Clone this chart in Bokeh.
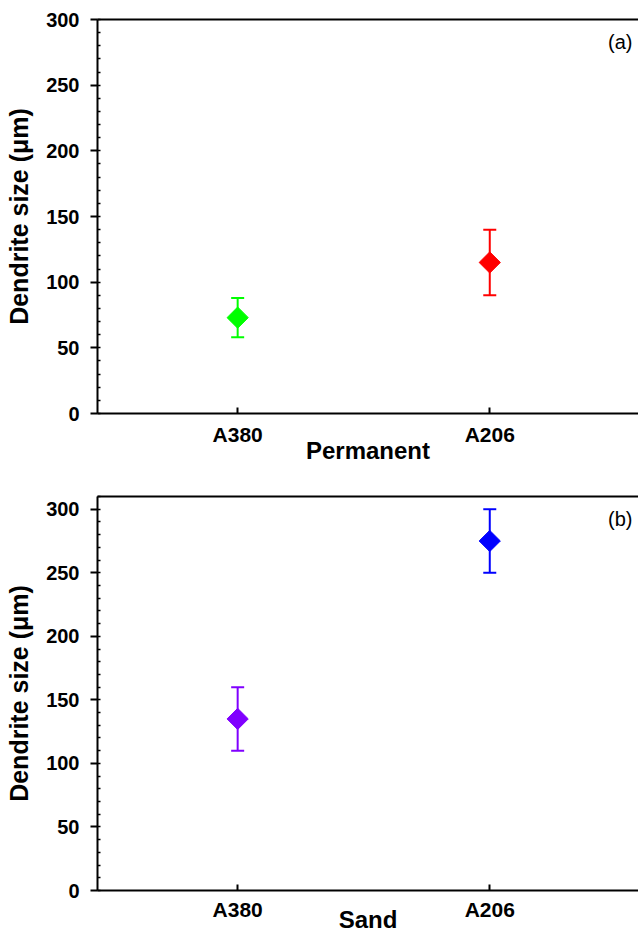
import numpy as np
from bokeh.plotting import figure
from bokeh.layouts import column
from bokeh.models import (ColumnDataSource, Range1d, FixedTicker,
                          SingleIntervalTicker, LinearAxis, Label)
from bokeh.embed import file_html
from bokeh.resources import INLINE

# Alloys on the x axis
alloys = ["A380", "A206"]

# (a) permanent mould casting: mean dendrite size and error (µm)
perm_size = [73, 115]
perm_err = [15, 25]
perm_colors = ["#00ff00", "#ff0000"]

# (b) sand casting
sand_size = [135, 275]
sand_err = [25, 25]
sand_colors = ["#8000ff", "#0000ff"]

FONT = "Liberation Sans"
X_START, X_END = 0.444, 2.59


def style_axis(ax):
    ax.axis_line_width = 2
    ax.axis_line_color = "black"
    ax.major_tick_line_width = 2
    ax.minor_tick_line_width = 1.5
    ax.major_label_text_font = FONT
    ax.major_label_text_font_style = "bold"
    ax.major_label_text_font_size = "20px"
    ax.major_label_text_color = "black"
    ax.axis_label_text_font = FONT
    ax.axis_label_text_font_style = "bold"
    ax.axis_label_text_font_size = "25px"
    ax.axis_label_text_color = "black"


def make_panel(sizes, errs, colors, xtitle, tag, y_end, height, top, bottom,
               label_standoff, title_standoff):
    positions = list(range(1, len(alloys) + 1))
    src = ColumnDataSource(dict(
        x=positions,
        size=sizes,
        lo=[s - e for s, e in zip(sizes, errs)],
        hi=[s + e for s, e in zip(sizes, errs)],
        color=colors,
    ))

    p = figure(width=638, height=height,
               x_range=Range1d(X_START, X_END), y_range=Range1d(0, y_end),
               output_backend="svg", toolbar_location=None,
               x_axis_location=None, y_axis_location=None,
               min_border_left=97, min_border_right=0,
               min_border_top=top, min_border_bottom=bottom)
    p.outline_line_color = None
    p.xgrid.visible = False
    p.ygrid.visible = False
    p.background_fill_color = "white"

    yaxis = LinearAxis(ticker=SingleIntervalTicker(interval=50, num_minor_ticks=5),
                       axis_label="Dendrite size (μm)")
    style_axis(yaxis)
    yaxis.major_tick_out = 7
    yaxis.major_tick_in = 0
    yaxis.minor_tick_out = 0
    yaxis.minor_tick_in = 3
    yaxis.major_label_standoff = 11
    yaxis.axis_label_standoff = 10
    p.add_layout(yaxis, "left")

    xaxis = LinearAxis(ticker=FixedTicker(ticks=positions),
                       major_label_overrides={i: a for i, a in zip(positions, alloys)},
                       axis_label=xtitle)
    style_axis(xaxis)
    xaxis.major_label_text_font_size = "21px"
    xaxis.axis_label_text_font_size = "24px"
    xaxis.major_tick_out = 0
    xaxis.major_tick_in = 6
    xaxis.minor_tick_out = 0
    xaxis.minor_tick_in = 0
    xaxis.major_label_standoff = label_standoff
    xaxis.axis_label_standoff = title_standoff
    p.add_layout(xaxis, "below")

    top_axis = LinearAxis(ticker=FixedTicker(ticks=[]))
    style_axis(top_axis)
    top_axis.major_tick_out = 0
    top_axis.major_tick_in = 0
    top_axis.minor_tick_out = 0
    top_axis.minor_tick_in = 0
    top_axis.major_label_standoff = 0
    p.add_layout(top_axis, "above")

    # error bars with caps
    p.segment(x0="x", y0="lo", x1="x", y1="hi", line_color="color",
              line_width=2, source=src)
    p.scatter(x="x", y="hi", marker="dash", size=13, line_color="color",
              line_width=2, source=src)
    p.scatter(x="x", y="lo", marker="dash", size=13, line_color="color",
              line_width=2, source=src)
    # diamond markers
    p.scatter(x="x", y="size", marker="square", angle=np.pi / 4, size=15,
              fill_color="color", line_color="color", source=src)

    # panel tag
    p.add_layout(Label(x=X_END, y=y_end, x_offset=-6, y_offset=-11, text=tag,
                       text_align="right", text_baseline="top",
                       text_font=FONT, text_font_size="20px", text_color="black"))
    return p


p1 = make_panel(perm_size, perm_err, perm_colors, "Permanent", "(a)", 300,
                height=473, top=19, bottom=60,
                label_standoff=9, title_standoff=-12)
p2 = make_panel(sand_size, sand_err, sand_colors, "Sand", "(b)", 310,
                height=462, top=23, bottom=45,
                label_standoff=7, title_standoff=-18)

layout = column(p1, p2, spacing=0)
open("out.html", "w").write(file_html(layout, INLINE))
